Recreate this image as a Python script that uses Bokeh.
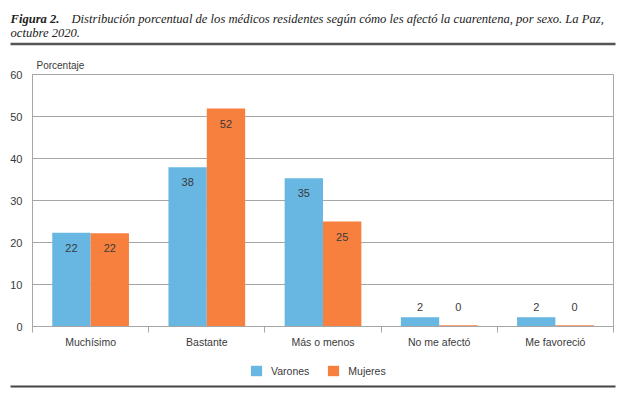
from bokeh.plotting import figure
from bokeh.models import Range1d, FixedTicker, Legend, LegendItem
from bokeh.layouts import column
from bokeh.embed import file_html
from bokeh.resources import INLINE
from bokeh.core.properties import value
import numpy as np

# ---- data ----
caption_bold = "Figura 2."
caption_line1 = "Distribución porcentual de los médicos residentes según cómo les afectó la cuarentena, por sexo. La Paz,"
caption_line2 = "octubre 2020."
y_axis_title = "Porcentaje"
categories = ["Muchísimo", "Bastante", "Más o menos", "No me afectó", "Me favoreció"]
series_names = ["Varones", "Mujeres"]
varones = [22.3, 37.9, 35.3, 2.2, 2.2]
mujeres = [22.2, 51.9, 25.0, 0.3, 0.3]
varones_labels = ["22", "38", "35", "2", "2"]
mujeres_labels = ["22", "52", "25", "0", "0"]
y_ticks = [0, 10, 20, 30, 40, 50, 60]

BLUE = "#67B7E2"
ORANGE = "#F7803E"
GRAY = "#a6a6a6"
TXT = "#3a3a3a"
SANS = "Liberation Sans"
SERIF = "Liberation Serif"
W = 620


def no_align(fig):
    if "frame_align" in fig.properties():
        fig.frame_align = False


def blank_fig(height):
    f = figure(width=W, height=height, x_range=Range1d(0, W), y_range=Range1d(height, 0),
               output_backend="svg", toolbar_location=None, min_border=0,
               x_axis_location=None, y_axis_location=None, outline_line_color=None)
    f.grid.visible = False
    no_align(f)
    return f


# ---- header: caption + rule ----
HH = 50
hdr = blank_fig(HH)
cap = dict(text_font=value(SERIF), text_font_size="12.6px", text_color="#222222",
           text_baseline="alphabetic")
hdr.text(x=[10], y=[18], text=[caption_bold], text_font_style="bold italic", **cap)
hdr.text(x=[71], y=[18], text=[caption_line1], text_font_style="italic", **cap)
hdr.text(x=[10], y=[32], text=[caption_line2], text_font_style="italic", **cap)
hdr.segment(x0=[10], y0=[43.5], x1=[615], y1=[43.5], line_color="#555555", line_width=2.5)

# ---- main chart ----
n = len(categories)
idx = np.arange(n)
centers = idx + 0.5
bounds = np.arange(n + 1)
bw = 0.33

p = figure(width=W, height=300, x_range=Range1d(0, n), y_range=Range1d(0, 60),
           output_backend="svg", toolbar_location=None, title=y_axis_title,
           min_border_left=32, min_border_right=W - 613,
           min_border_top=24, min_border_bottom=23)
no_align(p)
p.title.text_font = SANS
p.title.text_font_size = "10px"
p.title.text_font_style = "normal"
p.title.text_color = TXT
p.title.align = "left"
p.title.offset = 4
p.title.standoff = 7

rv = p.vbar(x=centers - bw / 2, top=varones, width=bw, fill_color=BLUE, line_color=None)
rm = p.vbar(x=centers + bw / 2, top=mujeres, width=bw, fill_color=ORANGE, line_color=None)


def label_pos(vals, other):
    ys, offs = [], []
    for v, o in zip(vals, other):
        if v >= 5:
            ys.append(v); offs.append(15)
        else:
            ys.append(max(v, o)); offs.append(-10)
    return ys, offs


yv, ov = label_pos(varones, mujeres)
ym, om = label_pos(mujeres, varones)
p.text(x=centers - bw / 2, y=yv, text=varones_labels, y_offset=ov, text_align="center",
       text_baseline="middle", text_font=value(SANS), text_font_size="11px", text_color=TXT)
p.text(x=centers + bw / 2, y=ym, text=mujeres_labels, y_offset=om, text_align="center",
       text_baseline="middle", text_font=value(SANS), text_font_size="11px", text_color=TXT)

p.xgrid.visible = False
p.ygrid.ticker = FixedTicker(ticks=y_ticks)
p.ygrid.grid_line_color = GRAY
p.outline_line_color = GRAY

p.yaxis.ticker = FixedTicker(ticks=y_ticks)
p.yaxis.axis_line_color = GRAY
p.yaxis.major_tick_out = 0
p.yaxis.major_tick_in = 0
p.yaxis.minor_tick_out = 0
p.yaxis.minor_tick_in = 0
p.yaxis.major_label_standoff = 10
p.yaxis.major_label_text_font = SANS
p.yaxis.major_label_text_font_size = "11px"
p.yaxis.major_label_text_color = TXT

p.xaxis.ticker = FixedTicker(ticks=list(centers), minor_ticks=list(bounds))
p.xaxis.major_label_overrides = {float(c): cat for c, cat in zip(centers, categories)}
p.xaxis.axis_line_color = GRAY
p.xaxis.major_tick_out = 0
p.xaxis.major_tick_in = 0
p.xaxis.minor_tick_out = 6
p.xaxis.minor_tick_in = 0
p.xaxis.minor_tick_line_color = GRAY
p.xaxis.major_label_standoff = 3
p.xaxis.major_label_text_font = SANS
p.xaxis.major_label_text_font_size = "10.5px"
p.xaxis.major_label_text_color = TXT

# ---- footer: legend + rule ----
FH = 46
ftr = blank_fig(FH)
# legend proxies carry the same series (hidden; only their legend swatches show)
lv = ftr.vbar(x=centers, top=varones, width=bw, fill_color=BLUE, line_color=None, visible=False)
lm = ftr.vbar(x=centers, top=mujeres, width=bw, fill_color=ORANGE, line_color=None, visible=False)
legend = Legend(items=[LegendItem(label=series_names[0], renderers=[lv]),
                       LegendItem(label=series_names[1], renderers=[lm])],
                orientation="horizontal", location=(249, 19), click_policy="none",
                glyph_width=14, glyph_height=13, label_height=13, label_standoff=8,
                spacing=17, padding=0, margin=0, border_line_alpha=0,
                background_fill_alpha=0,
                label_text_font=SANS, label_text_font_size="10.5px", label_text_color=TXT)
ftr.add_layout(legend)
ftr.segment(x0=[10], y0=[36], x1=[615], y1=[36], line_color="#444444", line_width=2)

layout = column(hdr, p, ftr)
open("out.html", "w").write(file_html(layout, INLINE))
